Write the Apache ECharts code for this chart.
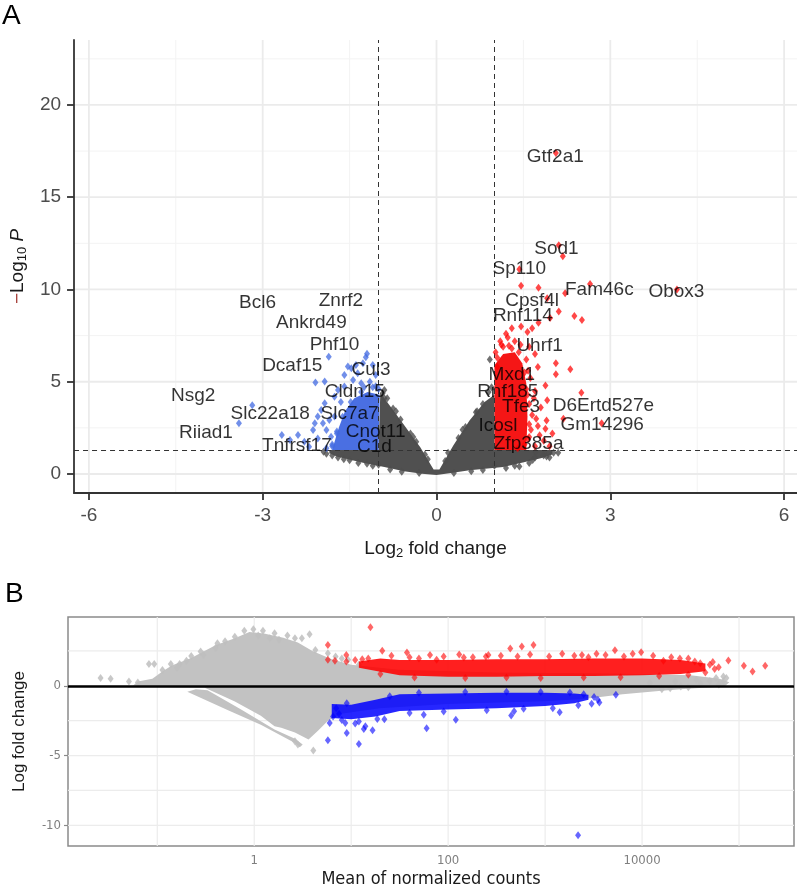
<!DOCTYPE html>
<html>
<head>
<meta charset="utf-8">
<script src="https://cdn.jsdelivr.net/npm/echarts@6/dist/echarts.min.js"></script>
<style>
    html, body { margin: 0; padding: 0; background: #fff; }
    #mainChart { width: 797px; height: 889px; }
</style>
</head>
<body>
<div id="mainChart"></div>
<script>
/** ----------------数据：A 火山图-------------------------* */
// 致密区轮廓 (log2FC, -log10P)
var volGrayCore = [[-1.85,1.3],[-1.85,1.12],[-1.71,0.94],[-1.25,0.6],[-0.9,0.38],[-0.56,0.15],[-0.25,0.02],[0,-0.05],
    [0.25,0.05],[0.57,0.2],[1.15,0.38],[1.49,0.62],[1.8,0.85],[2.0,1.05],[2.0,1.3],[1.0,1.3],[1.0,4.3],[0.83,3.9],
    [0.57,2.9],[0.29,1.55],[0.05,0.25],[-0.05,0.25],[-0.28,1.45],[-0.56,2.65],[-0.97,4.4],[-1.0,1.3]];
var volBlueCore = [[-1.0,1.3],[-0.98,4.3],[-1.19,4.45],[-1.42,4.1],[-1.58,3.4],[-1.68,2.56],[-1.75,1.84],[-1.8,1.3]];
var volRedCore = [[1.0,1.3],[1.0,5.9],[1.15,6.5],[1.35,6.6],[1.48,6.0],[1.55,4.9],[1.57,3.1],[1.55,1.3]];
// 散点
var volGrayPts = [[0.92,6.2],[-0.93,4.37],[-0.9,4.55],[1.43,0.4],[1.66,0.76],[1.71,1.21],[2.02,1.15],[1.7,0.9],
    [1.85,1.0],[2.1,1.15],[-1.9,1.1],[-1.95,1.2],[-1.7,0.9],[-1.5,0.75],[-1.2,0.55],[-0.6,0.12],[0.6,0.15],
    [1.2,0.33],[0.9,4.45],[0.95,4.7],[-0.85,4.1],[-0.7,3.4],[0.7,3.4],[0.45,2.4],[-0.4,2.0],[1.0,0.45],
    [-1.0,0.5],[0.3,0.05],[-0.3,0.05],[1.9,0.95],[-1.8,1.0],[0.15,0.7],[-0.15,0.8],
    [-0.9,4.1],[-0.75,3.55],[-0.62,2.95],[-0.45,2.2],[-0.35,1.75],[-0.2,1.05],[0.2,1.15],[0.38,1.95],[0.5,2.55],
    [0.68,3.35],[0.8,3.8],[-1.6,0.8],[-1.35,0.6],[-1.1,0.45],[-0.8,0.25],[0.8,0.22],[1.35,0.45],[1.6,0.6],[1.95,0.9]];
var volBluePts = [[-1.86,6.35],[-1.2,6.51],[-1.22,6.33],[-2.09,4.96],[-1.93,5.01],[-3.18,3.72],[-3.41,2.75],
    [-2.67,2.11],[-2.39,2.11],[-2.13,2.38],[-2.53,1.84],[-1.47,5.73],[-1.36,5.46],[-1.3,4.92],[-1.44,5.1],
    [-1.59,4.74],[-1.7,4.55],[-1.76,4.19],[-1.93,3.83],[-1.99,3.47],[-2.05,3.11],[-1.96,2.75],[-2.1,2.75],
    [-1.9,2.38],[-2.05,1.93],[-2.28,1.75],[-2.2,1.48],[-1.82,2.02],[-1.76,3.11],[-1.85,2.93],[-1.59,5.37],
    [-1.1,5.91],[-1.05,5.37],[-1.53,5.82],[-1.39,5.91],[-1.27,6.0],[-1.15,5.0],[-1.05,4.75],[-1.25,4.7],
    [-1.65,3.9],[-1.8,1.5],[-1.72,2.3],[-1.0,4.6],[-1.1,4.7],[-1.3,4.45],[-1.48,3.9],[-1.62,3.1],[-1.72,2.2],
    [-1.8,1.6],[-1.9,1.4]];
var volRedPts = [[2.06,17.4],[2.11,12.4],[2.18,11.8],[1.43,11.1],[1.46,10.2],[1.76,10.1],[2.65,10.3],[2.22,9.8],
    [4.15,10.0],[1.91,9.52],[2.11,8.8],[2.38,8.56],[2.51,8.35],[1.96,8.45],[1.76,8.2],[1.46,8.0],[1.2,7.6],
    [1.57,7.7],[1.23,7.4],[1.65,7.9],[2.06,6.0],[2.31,5.67],[2.06,5.4],[1.88,4.8],[2.5,4.4],[1.91,4.0],[2.19,3.0],
    [2.85,2.75],[1.88,2.45],[2.0,2.2],[1.6,6.9],[1.7,6.5],[1.75,5.8],[1.62,5.2],[1.7,4.5],[1.8,3.6],[1.65,3.2],
    [1.75,2.6],[1.6,2.0],[1.85,1.8],[1.7,1.5],[1.55,6.2],[1.45,7.0],[1.35,7.2],[1.3,6.8],[1.15,6.9],[1.05,6.3],
    [1.9,2.9],[1.55,4.6],[1.6,3.8],[1.52,1.6],[1.78,2.1],[1.95,1.5],[1.4,1.4],[1.3,7.9],[1.1,7.2],[1.68,4.1],
    [1.72,3.0],[1.63,2.4],[1.58,5.6],[1.02,6.6],[1.12,7.0],[1.25,6.95],[1.42,6.6],[1.52,5.5],[1.57,4.3],
    [1.6,2.7],[1.58,1.9],[1.05,5.8]];
// 基因标签
var geneNames = ['Gtf2a1','Sod1','Sp110','Fam46c','Obox3','Cpsf4l','Rnf114','Uhrf1','Mxd1','Rnf185','Tfe3',
    'D6Ertd527e','Icosl','Gm14296','Zfp385a','Bcl6','Znrf2','Ankrd49','Phf10','Dcaf15','Cul3','Nsg2','Cldn15',
    'Slc22a18','Slc7a7','Riiad1','Cnot11','Tnfrsf17','C1d'];
var geneX = [2.05,2.07,1.43,2.81,4.14,1.65,1.49,1.78,1.3,1.23,1.46,2.88,1.06,2.86,1.59,
    -3.09,-1.65,-2.16,-1.76,-2.49,-1.13,-4.2,-1.41,-2.87,-1.5,-3.98,-1.05,-2.41,-1.07];
var geneY = [17.2,12.2,11.1,10.0,9.9,9.4,8.56,6.94,5.4,4.43,3.65,3.69,2.6,2.66,1.66,
    9.3,9.4,8.2,7.0,5.85,5.67,4.24,4.43,3.29,3.29,2.24,2.3,1.52,1.45];
// 坐标轴与阈值
var volXMajor = [-6, -3, 0, 3, 6];
var volXMinor = [-4.5, -1.5, 1.5, 4.5];
var volYMajor = [0, 5, 10, 15, 20];
var volYMinor = [2.5, 7.5, 12.5, 17.5, 22.5];
var fcCut = [-1, 1];
var pCut = 1.3;

/** ----------------数据：B MA 图-------------------------* */
// (平均表达量, log fold change)
var maGrayCore = [[0.056,0.0],[0.063,0.3],[0.089,0.5],[0.112,1.0],[0.141,1.45],[0.224,2.0],[0.398,2.9],[0.631,3.4],
    [0.891,3.85],[1.259,3.75],[1.995,3.45],[2.818,3.1],[3.981,2.5],[6.31,1.9],[10,1.5],[31.6,1.15],[316,0.95],
    [3162,0.9],[10000,0.85],[31600,0.75],[63100,0.5],[79400,0.25],[70800,-0.05],[31600,-0.2],[15850,-0.35],
    [6310,-0.6],[2512,-0.95],[1000,-1.1],[100,-1.3],[20,-1.6],[7.94,-2.0],[5.75,-2.5],[4.57,-3.2],[3.63,-3.85],
    [2.63,-3.35],[1.9,-3.0],[1.62,-2.9],[1.17,-2.14],[0.631,-1.12],[0.305,-0.12],[0.158,-0.1],[0.079,-0.05]];
var maGrayStreak = [[0.25,-0.25],[0.33,-0.32],[0.74,-1.71],[1.62,-3.14],[2.63,-3.8],[3.16,-4.2],[2.95,-4.4],
    [2.63,-4.1],[1.17,-2.8],[0.537,-1.75],[0.204,-0.42]];
var maRedCore = [[12,1.75],[20,1.95],[31.6,1.85],[100,1.85],[316,1.9],[1000,1.9],[3162,1.95],[10000,1.95],
    [25000,1.85],[45000,1.6],[45000,1.05],[25000,0.85],[10000,0.75],[3162,0.7],[1000,0.7],[316,0.65],[100,0.65],
    [31.6,0.75],[20,1.0],[12,1.3]];
var maBlueCore = [[6.3,-1.3],[10,-1.35],[17.8,-1.0],[31.6,-0.6],[100,-0.55],[316,-0.5],[1000,-0.5],[2000,-0.55],
    [2800,-0.65],[2800,-1.0],[2000,-1.25],[1000,-1.45],[316,-1.6],[100,-1.7],[31.6,-1.8],[17.8,-2.2],[10,-2.4],
    [6.3,-2.3]];
var maGrayPts = [[0.026,0.55],[0.033,0.5],[0.051,0.3],[0.063,0.24],[0.082,1.57],[0.093,1.57],[0.113,1.14],
    [0.138,1.57],[0.17,1.57],[0.224,2.14],[0.28,2.45],[0.417,3.05],[0.63,3.52],[0.79,3.95],[0.98,4.05],[1.23,3.95],
    [1.62,3.76],[2.63,3.4],[3.72,3.69],[4.27,2.57],[5.75,2.33],[9.3,1.86],[4.07,-4.64],[2.82,-4.2],[2.63,-3.98],
    [69000,0.67],[36300,0.43],[19500,-0.17],[25100,-0.05],[69000,0.33],[74000,0.55],[0.4,2.7],[0.5,3.2],[1.1,3.6],
    [1.8,3.3],[2.2,3.6],[3.1,3.4],[0.3,2.2],[0.2,1.8],[0.16,1.3],[6.9,2.1],[8,1.95],[12,1.5],[1.45,3.4],
    [12000,0.2],[16000,-0.25],[22000,0.3],[30000,-0.1],[40000,0.15],[50000,0.35],[58000,0.55],[62000,0.1]];
var maRedPts = [[5.75,2.93],[8.9,2.21],[15.8,4.19],[20.9,2.52],[5.75,1.86],[6.8,1.8],[8.9,1.75],[11,1.85],[13,1.9],
    [15,1.95],[37.6,2.38],[50,1.95],[76,1.86],[145,2.02],[245,2.1],[437,2.67],[575,2.81],[759,2.93],[2399,2.21],
    [3388,2.29],[5248,2.55],[9772,2.4],[16600,1.79],[24550,1.95],[53700,1.71],[61660,1.33],[77600,1.81],
    [112200,1.43],[138000,1.02],[186200,1.43],[39800,1.62],
    [26,2.15],[40,2.05],[65,2.2],[90,2.1],[130,2.25],[180,2.05],[260,2.2],[350,2.15],[520,2.1],[700,2.25],
    [1100,2.1],[1500,2.3],[2000,2.15],[2800,2.05],[4200,2.2],[6500,2.1],[8000,2.3],[13000,2.15],[20000,2.05],
    [30000,1.95],[35000,1.75],[50000,1.5],[56000,1.2],[45000,0.95],[20,0.85],[45,0.6],[150,0.55],[400,0.6],
    [900,0.55],[2500,0.6],[6000,0.62],[15000,0.7],[30000,0.8]];
var maBluePts = [[5.75,-3.9],[9.0,-3.38],[12,-4.17],[13.5,-3.1],[16.6,-3.19],[60,-3.05],[120,-2.43],[447,-2.12],
    [479,-1.83],[1413,-1.9],[2188,-10.71],[3020,-1.29],[3630,-1.2],[5370,-0.64],[6.0,-2.67],[8.7,-2.67],
    [18.6,-2.38],[56,-2.07],[6.5,-2.2],[7.5,-2.0],[11,-2.7],[14,-2.9],
    [25,-0.75],[50,-0.5],[150,-0.45],[400,-0.42],[900,-0.45],[1800,-0.48],[2500,-0.6],[3200,-0.8],[3500,-1.0],
    [2200,-1.4],[1200,-1.6],[600,-1.65],[250,-1.75],[90,-1.85],[40,-1.95],[22,-2.4],[12,-2.55],[8,-2.45],
    [7,-1.6],[9,-1.25]];
var maXTicks = [1, 100, 10000];
var maXGrid = [0.1, 1, 10, 100, 1000, 10000, 100000];
var maYTicks = [0, -5, -10];
var maYGrid = [2.5, 0, -2.5, -5, -7.5, -10];

var FONT = '"Liberation Sans", Arial, sans-serif';
var NARROW = '"Liberation Sans Narrow", "DejaVu Sans Condensed", "Liberation Sans", sans-serif';

window.onload = function () {
    initChart();
};

/** --------多边形（致密点云）------ */
function polygonSeries(idx, verts, color, z) {
    return {
        type: 'custom',
        xAxisIndex: idx,
        yAxisIndex: idx,
        z: z,
        silent: true,
        data: [verts[0]],
        renderItem: function (params, api) {
            var pts = [];
            for (var i = 0; i < verts.length; i++) {
                pts.push(api.coord(verts[i]));
            }
            return { type: 'polygon', shape: { points: pts }, style: { fill: color } };
        }
    };
}

/** --------网格线------ */
function gridLineSeries(idx, xs, ys, refPt, color, width) {
    return {
        type: 'custom',
        xAxisIndex: idx,
        yAxisIndex: idx,
        z: 0,
        silent: true,
        data: [refPt],
        renderItem: function (params, api) {
            var cs = params.coordSys;
            var children = [];
            for (var i = 0; i < xs.length; i++) {
                var p = api.coord([xs[i], refPt[1]]);
                children.push({ type: 'line', shape: { x1: p[0], y1: cs.y, x2: p[0], y2: cs.y + cs.height },
                    style: { stroke: color, lineWidth: width } });
            }
            for (var j = 0; j < ys.length; j++) {
                var q = api.coord([refPt[0], ys[j]]);
                children.push({ type: 'line', shape: { x1: cs.x, y1: q[1], x2: cs.x + cs.width, y2: q[1] },
                    style: { stroke: color, lineWidth: width } });
            }
            return { type: 'group', children: children };
        }
    };
}

function pointSeries(idx, data, color, opacity, size, z) {
    return {
        type: 'scatter',
        xAxisIndex: idx,
        yAxisIndex: idx,
        z: z,
        silent: true,
        symbol: 'diamond',
        symbolSize: size,
        itemStyle: { color: color, opacity: opacity },
        data: data
    };
}

/** --------加载图表------ */
function initChart() {
    var chart = echarts.init(document.getElementById('mainChart'), null, { renderer: 'canvas' });

    var labelData = [];
    for (var i = 0; i < geneNames.length; i++) {
        labelData.push({ name: geneNames[i], value: [geneX[i], geneY[i]] });
    }

    var option = {
        animation: false,
        backgroundColor: '#fff',
        title: [
            { text: 'A', left: 2, top: 2, padding: 0, textStyle: { fontSize: 28, fontWeight: 'normal', color: '#000', fontFamily: FONT } },
            { text: 'B', left: 5, top: 580, padding: 0, textStyle: { fontSize: 28, fontWeight: 'normal', color: '#000', fontFamily: FONT } }
        ],
        grid: [
            { left: 67, top: 40, width: 730, height: 453 },
            { left: 68, top: 617, width: 726, height: 230, show: true, borderColor: '#8a8a8a', borderWidth: 1.5, backgroundColor: 'rgba(0,0,0,0)' }
        ],
        xAxis: [
            {
                type: 'value', gridIndex: 0, min: -6.256, max: 6.222,
                name: '{t|Log}{s|2}{t| fold change}', nameLocation: 'middle', nameGap: 44,
                nameTextStyle: { rich: {
                    t: { fontSize: 19, color: '#1a1a1a', fontFamily: FONT },
                    s: { fontSize: 13, color: '#1a1a1a', fontFamily: FONT, padding: [10, 0, 0, 0] } } },
                axisLine: { show: true, onZero: false, lineStyle: { color: '#333', width: 1.8 } },
                axisTick: { show: true, length: 7, customValues: volXMajor, lineStyle: { color: '#333', width: 1.8 } },
                axisLabel: { customValues: volXMajor, color: '#4d4d4d', fontSize: 19, margin: 13, fontFamily: FONT },
                splitLine: { show: false }
            },
            {
                type: 'log', gridIndex: 1, min: 0.012, max: 369000,
                name: 'Mean of normalized counts', nameLocation: 'middle', nameGap: 24,
                nameTextStyle: { fontSize: 18, color: '#1a1a1a', fontFamily: NARROW },
                axisLine: { show: false },
                axisTick: { show: true, length: 4, customValues: maXTicks, lineStyle: { color: '#8a8a8a', width: 1.2 } },
                axisLabel: {
                    customValues: maXTicks, color: '#7f7f7f', fontSize: 13, margin: 8, fontFamily: NARROW,
                    formatter: function (value) {
                        return String(Math.round(value));
                    }
                },
                splitLine: { show: false }
            }
        ],
        yAxis: [
            {
                type: 'value', gridIndex: 0, min: -1.03, max: 23.52,
                name: '{m|\u2212}{t|Log}{s|10}{i| P}', nameLocation: 'middle', nameGap: 44, nameRotate: 90,
                nameTextStyle: { rich: {
                    m: { fontSize: 19, color: '#a8453f', fontFamily: FONT },
                    t: { fontSize: 19, color: '#1a1a1a', fontFamily: FONT },
                    s: { fontSize: 13, color: '#1a1a1a', fontFamily: FONT, padding: [10, 0, 0, 0] },
                    i: { fontSize: 19, color: '#1a1a1a', fontFamily: FONT, fontStyle: 'italic' } } },
                axisLine: { show: true, onZero: false, lineStyle: { color: '#333', width: 1.8 } },
                axisTick: { show: true, length: 7, customValues: volYMajor, lineStyle: { color: '#333', width: 1.8 } },
                axisLabel: { customValues: volYMajor, color: '#4d4d4d', fontSize: 19, margin: 13, fontFamily: FONT },
                splitLine: { show: false }
            },
            {
                type: 'value', gridIndex: 1, min: -11.48, max: 4.93,
                name: 'Log fold change', nameLocation: 'middle', nameGap: 40, nameRotate: 90,
                nameTextStyle: { fontSize: 17, color: '#1a1a1a', fontFamily: FONT },
                axisLine: { show: false, onZero: false },
                axisTick: { show: true, length: 4, customValues: maYTicks, lineStyle: { color: '#8a8a8a', width: 1.2 } },
                axisLabel: { customValues: maYTicks, color: '#7f7f7f', fontSize: 13, margin: 7, fontFamily: NARROW },
                splitLine: { show: false }
            }
        ],
        series: [
            // A 火山图
            gridLineSeries(0, volXMinor, volYMinor, [0, 0], '#f3f3f3', 1),
            gridLineSeries(0, volXMajor, volYMajor, [0, 0], '#ebebeb', 1.8),
            polygonSeries(0, volGrayCore, '#505050', 2),
            pointSeries(0, volGrayPts, '#4d4d4d', 0.8, [6, 8], 3),
            polygonSeries(0, volBlueCore, '#4a6fe2', 4),
            pointSeries(0, volBluePts, '#4169e1', 0.75, [6, 8], 5),
            polygonSeries(0, volRedCore, '#f51616', 4),
            pointSeries(0, volRedPts, '#ff0000', 0.72, [6, 8], 5),
            {
                type: 'scatter', xAxisIndex: 0, yAxisIndex: 0, z: 8, silent: true,
                symbolSize: 1, itemStyle: { color: 'rgba(0,0,0,0)' },
                label: { show: true, position: 'inside', formatter: '{b}', color: '#000', fontSize: 19, fontFamily: FONT },
                data: labelData,
                markLine: {
                    silent: true, symbol: 'none', animation: false,
                    label: { show: false },
                    lineStyle: { color: '#333', width: 1, type: [5, 4] },
                    data: [{ xAxis: fcCut[0] }, { xAxis: fcCut[1] }, { yAxis: pCut }]
                }
            },
            // B MA 图
            gridLineSeries(1, maXGrid, maYGrid, [1, 0], '#ececec', 1.2),
            polygonSeries(1, maGrayCore, '#c2c2c2', 2),
            polygonSeries(1, maGrayStreak, '#c2c2c2', 2),
            pointSeries(1, maGrayPts, '#bebebe', 0.85, [6, 8], 3),
            polygonSeries(1, maRedCore, 'rgba(255,0,0,0.88)', 4),
            pointSeries(1, maRedPts, '#ff0000', 0.6, [6, 8], 5),
            polygonSeries(1, maBlueCore, 'rgba(0,0,255,0.85)', 4),
            {
                type: 'scatter', xAxisIndex: 1, yAxisIndex: 1, z: 6, silent: true,
                symbol: 'diamond', symbolSize: [6, 8],
                itemStyle: { color: '#0000ff', opacity: 0.6 },
                data: maBluePts,
                markLine: {
                    silent: true, symbol: 'none', animation: false,
                    label: { show: false },
                    lineStyle: { color: '#000', width: 2.6, type: 'solid' },
                    data: [{ yAxis: 0 }]
                }
            }
        ]
    };
    chart.setOption(option);

    window.onresize = function () {
        chart.resize();
    };
}
</script>
</body>
</html>
